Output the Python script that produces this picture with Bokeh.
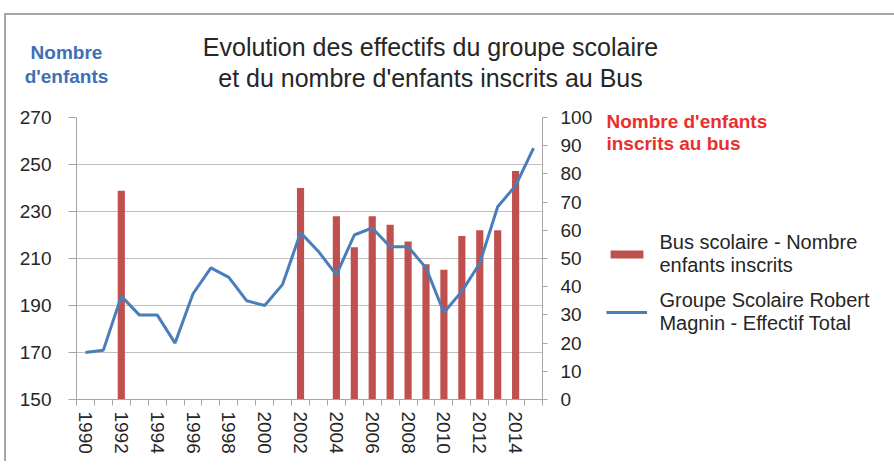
from bokeh.plotting import figure
from bokeh.models import Range1d, LinearAxis, FixedTicker, Label, Legend, LegendItem
from bokeh.embed import file_html
from bokeh.resources import INLINE

# ---------------- data ----------------
years = list(range(1990, 2016))
effectif_total = [170, 171, 194, 186, 186, 174, 195, 206, 202, 192, 190, 199, 221,
                  213, 203, 220, 223, 215, 215, 206, 187, 196, 208, 232, 241, 257]
bus_years = [1992, 2002, 2004, 2005, 2006, 2007, 2008, 2009, 2010, 2011, 2012, 2013, 2014]
bus_inscrits = [74, 75, 65, 54, 65, 62, 56, 48, 46, 58, 60, 60, 81]
left_ticks = [150, 170, 190, 210, 230, 250, 270]
right_ticks = [0, 10, 20, 30, 40, 50, 60, 70, 80, 90, 100]
year_labels = list(range(1990, 2015, 2))

title_text = "Evolution des effectifs du groupe scolaire\net du nombre d'enfants inscrits au Bus"
left_title = "Nombre\nd'enfants"
right_title = "Nombre d'enfants\ninscrits au bus"
legend_bus = "Bus scolaire - Nombre\nenfants inscrits"
legend_total = "Groupe Scolaire Robert\nMagnin - Effectif Total"

# ---------------- layout ----------------
FONT = "Liberation Sans"
BAR = "#C0504D"
LINE = "#4A7EBB"
GRID = "#BFBFBF"
AXC = "#A6A6A6"
TXT = "#262626"

X0, X1 = 1989.5, 2015.5
Y0, Y1 = 150, 270
# frame position on the page (px)
FL, FR, FT, FB = 76, 542, 116, 398
OX, OY = 6, 15  # canvas origin on the page (after the chart border)


def dx(px):
    return X0 + (px - FL) * (X1 - X0) / (FR - FL)


def dy(py):
    return Y0 + (FB - py) * (Y1 - Y0) / (FB - FT)


p = figure(frame_width=FR - FL, frame_height=FB - FT,
           x_range=Range1d(X0, X1), y_range=Range1d(Y0, Y1),
           output_backend="svg", toolbar_location=None,
           min_border_left=FL - OX, min_border_top=FT - OY,
           min_border_right=348, min_border_bottom=62,
           background_fill_color="white", border_fill_color="white")
p.outline_line_color = None
p.styles = {"border-top": "2px solid #A6A6A6", "border-left": "2px solid #A6A6A6",
            "margin-top": "13px", "margin-left": "4px"}

p.extra_y_ranges = {"bus": Range1d(0, 100)}

# grid
p.xgrid.grid_line_color = None
p.ygrid.grid_line_color = GRID
p.ygrid.grid_line_width = 1

# left axis
ya = p.yaxis[0]
ya.ticker = FixedTicker(ticks=left_ticks)
ya.major_label_text_font = FONT
ya.major_label_text_font_size = "19px"
ya.major_label_text_color = TXT
ya.major_tick_out = 8
ya.major_tick_in = 0
ya.major_tick_line_color = AXC
ya.minor_tick_line_color = None
ya.axis_line_color = AXC
ya.major_label_standoff = 17

# right axis
ra = LinearAxis(y_range_name="bus", ticker=FixedTicker(ticks=right_ticks))
ra.major_label_text_font = FONT
ra.major_label_text_font_size = "19px"
ra.major_label_text_color = TXT
ra.major_tick_out = 5
ra.major_tick_in = 0
ra.major_tick_line_color = AXC
ra.minor_tick_line_color = None
ra.axis_line_color = AXC
ra.major_label_standoff = 13
p.add_layout(ra, "right")

# bottom axis
xa = p.xaxis[0]
xa.ticker = FixedTicker(ticks=year_labels,
                        minor_ticks=[y - 0.5 for y in years] + [years[-1] + 0.5])
xa.major_tick_line_color = None
xa.minor_tick_out = 6
xa.minor_tick_in = 0
xa.minor_tick_line_color = AXC
xa.axis_line_color = AXC
xa.major_label_orientation = "vertical"
xa.major_label_text_font = FONT
xa.major_label_text_font_size = "19px"
xa.major_label_text_color = TXT
xa.major_label_standoff = 6

# data
bars = p.vbar(x=bus_years, top=bus_inscrits, bottom=0, width=0.4,
              y_range_name="bus", fill_color=BAR, line_color=None)
line = p.line(x=years, y=effectif_total, line_color=LINE, line_width=3)

# texts (side panel so they are not clipped to the frame; data units = absolute place)
p.add_layout(Label(x=dx(430), y=dy(61), text=title_text, text_align="center",
                   text_baseline="middle", text_font=FONT, text_font_size="25px",
                   text_line_height=1.08, text_color=TXT), "above")
p.add_layout(Label(x=dx(66), y=dy(63), text=left_title, text_align="center",
                   text_baseline="middle", text_font=FONT, text_font_style="bold",
                   text_font_size="19px", text_line_height=1.1,
                   text_color="#3F6FB4"), "above")

legend = Legend(items=[LegendItem(label=legend_bus, renderers=[bars]),
                       LegendItem(label=legend_total, renderers=[line])],
                location=(-219, 64))
legend.title = right_title
legend.title_text_font = FONT
legend.title_text_font_style = "bold"
legend.title_text_font_size = "19px"
legend.title_text_color = "#E8302E"
legend.title_text_line_height = 1.1
legend.title_standoff = 76
legend.border_line_color = None
legend.background_fill_alpha = 0
legend.padding = 0
legend.margin = 0
legend.glyph_width = 41
legend.glyph_height = 10
legend.label_standoff = 12
legend.spacing = 12
legend.label_text_font = FONT
legend.label_text_font_size = "20px"
legend.label_text_color = TXT
legend.label_text_line_height = 1.15
p.add_layout(legend, "right")

open("out.html", "w").write(file_html(p, INLINE))
